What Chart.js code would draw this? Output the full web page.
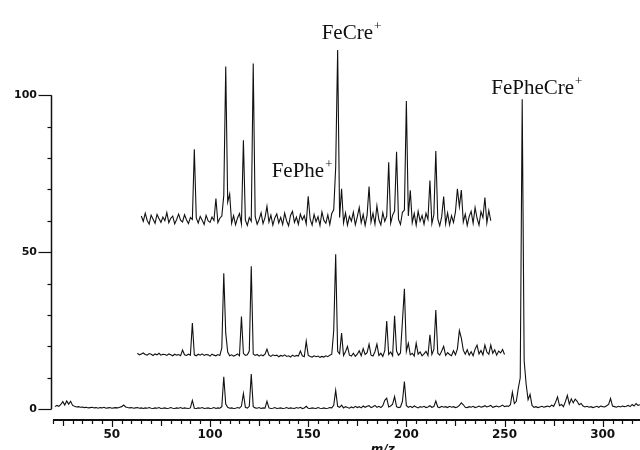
<!DOCTYPE html>
<html>
<head>
<meta charset="utf-8">
<script src="https://cdn.jsdelivr.net/npm/chart.js@4.4.1/dist/chart.umd.min.js"></script>
<style>
  html, body { margin: 0; padding: 0; background: #fff; }
  #box { width: 640px; height: 450px; }
</style>
</head>
<body>
<div id="box"><canvas id="spectrum" width="640" height="450"></canvas></div>
<script>
// ==========================================
// mass spectra, three traces stacked on one axis
// ==========================================

// first m/z of each trace; one reading per unit m/z after that
const topStart = 65;
const midStart = 63;
const lowStart = 21;

// upper trace (m/z 65..243)
const topTrace = [
  61.5, 59.8, 62.4, 60.1, 58.9, 61.8, 60.5, 59.2, 62.0, 60.7,
  59.5, 61.2, 60.0, 62.6, 59.4, 60.8, 61.5, 59.0, 60.4, 62.1,
  60.2, 59.6, 61.9, 60.3, 59.1, 61.0, 60.4, 82.8, 60.9, 59.3,
  61.4, 60.2, 58.8, 61.7, 60.0, 59.5, 61.2, 60.1, 67.1, 59.4,
  60.8, 61.5, 68.0, 109.1, 66.0, 68.5, 59.2, 61.6, 58.7, 60.9,
  62.3, 59.0, 85.6, 60.2, 58.5, 61.0, 59.8, 110.1, 61.3, 58.9,
  60.4, 62.5, 59.1, 61.0, 64.6, 59.6, 61.8, 58.6, 60.9, 62.2,
  59.3, 61.1, 58.8, 62.4, 60.0, 58.4, 61.7, 63.0, 59.5, 61.2,
  58.9, 62.1, 60.3, 61.6, 59.0, 67.8, 60.5, 58.6, 62.0, 59.7,
  61.3, 58.5, 62.8, 60.1, 59.2, 61.9, 58.8, 62.3, 63.5, 77.0,
  114.4, 61.0, 70.2, 59.3, 62.5, 58.6, 61.4, 59.9, 62.7, 58.7,
  61.2, 64.2, 59.4, 62.0, 58.5, 61.8, 70.9, 59.6, 62.4, 58.9,
  64.8, 60.3, 58.7, 62.6, 59.8, 61.5, 78.6, 59.2, 61.8, 63.1,
  82.0, 60.4, 58.8, 62.7, 63.4, 98.1, 61.5, 69.7, 59.4, 62.3,
  58.6, 63.0, 59.9, 61.7, 58.9, 62.4, 60.5, 72.8, 59.1, 61.9,
  82.2, 60.6, 58.4, 61.3, 67.7, 59.0, 62.5, 58.7, 61.6, 59.5,
  62.8, 70.2, 64.5, 69.8, 59.6, 62.1, 58.5, 61.4, 63.0, 59.2,
  64.2, 60.8, 58.6, 62.9, 61.0, 67.4, 59.3, 63.3, 60.0
];

// middle trace (m/z 63..250)
const midTrace = [
  17.8, 17.3, 17.6, 17.9, 17.4, 17.2, 17.7, 17.5, 17.1, 17.6,
  17.3, 17.8, 17.2, 17.5, 17.4, 17.1, 17.6, 17.3, 17.0, 17.5,
  17.2, 17.4, 17.0, 18.8, 17.3, 17.1, 17.5, 17.2, 27.4, 17.3,
  17.0, 17.5, 17.2, 17.6, 17.1, 17.4, 17.3, 16.9, 17.5, 17.2,
  17.0, 17.4, 17.1, 19.5, 43.3, 24.2, 18.2, 17.0, 17.3, 16.9,
  17.2, 17.6, 17.0, 29.5, 17.8, 17.1, 17.3, 18.5, 45.5, 17.6,
  17.1, 17.4, 16.9, 17.3, 17.0, 17.5, 19.1, 17.2, 16.8, 17.3,
  17.0, 17.2, 16.7, 17.1, 16.9, 17.3, 16.8, 17.0, 16.6, 17.2,
  16.8, 17.1, 16.9, 18.5, 17.0, 16.7, 21.6, 17.2, 16.8, 16.6,
  17.0, 16.7, 16.9, 16.5, 16.8, 16.6, 17.0, 16.7, 17.2, 17.5,
  25.0, 49.3, 18.4, 17.6, 24.2, 17.1, 18.3, 20.0, 17.2, 16.9,
  17.8, 16.8, 17.5, 18.6, 17.0, 19.3, 17.4, 18.0, 20.7, 17.2,
  16.9, 18.3, 20.7, 17.1, 17.8, 16.8, 18.6, 28.1, 17.4, 18.2,
  17.0, 29.7, 18.5, 17.2, 17.9, 28.0, 38.3, 18.4, 21.0, 17.3,
  17.8, 16.9, 21.0, 17.5, 18.2, 17.0, 17.6, 18.4, 17.1, 23.7,
  17.4, 19.0, 31.6, 17.8, 17.2, 18.5, 20.0, 17.1, 18.0, 17.4,
  17.0, 18.6, 17.3, 19.2, 25.0, 22.6, 18.8, 17.5, 18.9, 17.2,
  18.3, 17.0, 19.1, 20.4, 17.6, 18.7, 17.3, 20.4, 18.2, 17.5,
  20.4, 17.8, 18.9, 17.2, 18.5, 17.9, 19.0, 17.4
];

// lower trace (m/z 21..319)
const lowTrace = [
  0.8, 1.2, 0.9, 1.5, 2.4, 1.3, 2.6, 1.6, 2.5, 1.2,
  0.9, 0.7, 0.8, 0.6, 0.7, 0.5, 0.6, 0.4, 0.5, 0.6,
  0.4, 0.5, 0.3, 0.5, 0.4, 0.6, 0.3, 0.4, 0.5, 0.3,
  0.4, 0.5, 0.4, 0.6, 0.8, 1.3, 0.7, 0.5, 0.4, 0.5,
  0.3, 0.4, 0.5, 0.3, 0.4, 0.2, 0.4, 0.3, 0.5, 0.3,
  0.2, 0.4, 0.3, 0.5, 0.2, 0.3, 0.4, 0.2, 0.3, 0.5,
  0.3, 0.2, 0.4, 0.3, 0.5, 0.2, 0.4, 0.3, 0.2, 0.4,
  2.8, 0.3, 0.2, 0.4, 0.3, 0.5, 0.2, 0.3, 0.4, 0.2,
  0.3, 0.5, 0.2, 0.4, 0.3, 0.8, 10.3, 1.6, 0.6, 0.3,
  0.4, 0.2, 0.3, 0.5, 0.3, 1.0, 5.0, 0.6, 0.3, 0.9,
  11.2, 0.8, 0.4, 0.3, 0.5, 0.2, 0.4, 0.3, 2.5, 0.4,
  0.2, 0.3, 0.5, 0.2, 0.3, 0.4, 0.2, 0.3, 0.5, 0.2,
  0.4, 0.3, 0.2, 0.5, 0.3, 0.6, 0.2, 0.4, 0.9, 0.3,
  0.2, 0.4, 0.3, 0.2, 0.5, 0.3, 0.2, 0.4, 0.2, 0.3,
  0.5, 0.4, 1.2, 6.0, 0.9, 0.6, 1.3, 0.4, 0.8, 0.5,
  0.3, 0.7, 0.4, 0.9, 0.5, 0.8, 0.4, 1.0, 0.6, 0.9,
  1.1, 0.5, 0.8, 1.2, 0.6, 0.9, 0.5, 1.1, 2.8, 3.5,
  0.7, 1.0, 1.6, 4.0, 0.8, 0.5, 0.7, 2.5, 8.8, 1.2,
  0.6, 0.9, 0.5, 1.0, 0.7, 0.4, 0.8, 0.6, 0.9, 0.5,
  0.7, 1.1, 0.6, 0.8, 2.6, 0.7, 0.5, 0.9, 0.6, 0.8,
  0.5, 0.9, 0.6, 0.8, 0.5, 0.7, 1.2, 2.0, 1.4, 0.6,
  0.5, 0.8, 0.6, 0.9, 0.5, 0.7, 1.0, 0.6, 0.8, 1.1,
  0.7, 0.9, 1.2, 0.6, 0.8, 1.0, 0.7, 0.9, 1.3, 0.8,
  1.0, 0.9, 1.4, 5.4, 1.8, 2.5, 6.6, 10.0, 98.7, 15.4,
  8.0, 3.0, 4.7, 1.2, 0.6, 0.8, 0.5, 0.7, 0.9, 0.6,
  0.8, 1.0, 0.7, 1.3, 0.9, 2.2, 3.9, 1.1, 1.5, 0.8,
  2.4, 4.4, 1.6, 3.3, 2.0, 3.2, 2.5, 1.4, 1.8, 1.0,
  0.7, 0.9, 0.6, 0.8, 0.5, 0.7, 0.9, 0.6, 1.0, 0.8,
  0.7, 1.1, 1.5, 3.4, 1.0, 0.8, 0.6, 0.9, 0.7, 1.0,
  0.8, 0.9, 1.2, 0.8, 1.5, 1.0, 1.8, 1.2, 1.4
];

const xLabels = [50, 100, 150, 200, 250, 300];
const yLabels = [0, 50, 100];
const ionNames = ['FeCre', 'FePhe', 'FePheCre'];

function toPoints(start, values) {
  return values.map((v, i) => ({ x: start + i, y: v }));
}

function traceStyle(points) {
  return {
    data: points, showLine: true, borderColor: '#111', borderWidth: 1.1,
    pointRadius: 0, tension: 0, fill: false
  };
}

// axis lines, tick marks and ion labels
const axesPlugin = {
  id: 'axes',
  afterDraw(chart) {
    const { ctx, chartArea, scales: { x, y } } = chart;
    ctx.save();
    ctx.strokeStyle = '#111';
    ctx.fillStyle = '#111';

    // y axis, 0..100
    const ax = chartArea.left + 0.5;
    ctx.lineWidth = 1.5;
    ctx.beginPath();
    ctx.moveTo(ax, y.getPixelForValue(0));
    ctx.lineTo(ax, y.getPixelForValue(100));
    ctx.stroke();
    ctx.lineWidth = 1.2;
    for (let v = 0; v <= 100; v += 10) {
      const py = Math.round(y.getPixelForValue(v)) + 0.5;
      const len = yLabels.includes(v) ? 13 : 4;
      ctx.beginPath();
      ctx.moveTo(ax - len, py);
      ctx.lineTo(ax, py);
      ctx.stroke();
    }

    // x axis
    const by = chartArea.bottom + 1;
    ctx.lineWidth = 2;
    ctx.beginPath();
    ctx.moveTo(x.getPixelForValue(20), by);
    ctx.lineTo(chartArea.right, by);
    ctx.stroke();
    ctx.lineWidth = 1.2;
    for (let m = 20; m <= 315; m += 5) {
      const px = Math.round(x.getPixelForValue(m)) + 0.5;
      const len = m % 50 === 0 ? 7 : (m % 25 === 0 ? 6 : 4);
      ctx.beginPath();
      ctx.moveTo(px, by);
      ctx.lineTo(px, by + len);
      ctx.stroke();
    }

    // m/z title, cut by the bottom edge like the scan
    ctx.font = 'italic bold 12px "DejaVu Sans"';
    ctx.textAlign = 'center';
    ctx.textBaseline = 'top';
    ctx.fillText('m/z', x.getPixelForValue(188), 444);

    // ion labels
    const spots = [
      { mz: 165, dx: -16, v: 118 },
      { mz: 165, dx: -66, v: 74 },
      { mz: 259, dx: -31, v: 100.3 }
    ];
    ctx.textAlign = 'left';
    ctx.textBaseline = 'alphabetic';
    ionNames.forEach((name, i) => {
      const s = spots[i];
      const px = x.getPixelForValue(s.mz) + s.dx;
      const py = y.getPixelForValue(s.v);
      ctx.font = '21px "Liberation Serif"';
      ctx.fillText(name, px, py);
      const w = ctx.measureText(name).width;
      ctx.font = '13px "Liberation Serif"';
      ctx.fillText('+', px + w + 1, py - 9);
    });
    ctx.restore();
  }
};

new Chart(document.getElementById('spectrum'), {
  type: 'scatter',
  data: {
    datasets: [
      traceStyle(toPoints(topStart, topTrace)),
      traceStyle(toPoints(midStart, midTrace)),
      traceStyle(toPoints(lowStart, lowTrace))
    ]
  },
  options: {
    responsive: false,
    animation: false,
    devicePixelRatio: 1,
    layout: { padding: 0 },
    plugins: { legend: { display: false }, tooltip: { enabled: false } },
    scales: {
      x: {
        type: 'linear', min: 19, max: 319,
        // tickLength only spaces the labels; the marks come from the plugin
        grid: { display: false, drawTicks: true, tickLength: 9 },
        border: { display: false },
        afterFit: s => { s.height = 31; },
        afterBuildTicks: s => { s.ticks = xLabels.map(v => ({ value: v })); },
        ticks: {
          padding: 0, maxRotation: 0, autoSkip: false, color: '#111',
          font: { family: 'DejaVu Sans', size: 12, weight: 'bold' }
        }
      },
      y: {
        min: -3.135, max: 128.2,
        grid: { display: false, drawTicks: true, tickLength: 14 },
        border: { display: false },
        afterFit: s => { s.width = 51; },
        afterBuildTicks: s => { s.ticks = yLabels.map(v => ({ value: v })); },
        ticks: {
          padding: 0, color: '#111',
          font: { family: 'DejaVu Sans', size: 11, weight: 'bold' }
        }
      }
    }
  },
  plugins: [axesPlugin]
});
</script>
</body>
</html>
